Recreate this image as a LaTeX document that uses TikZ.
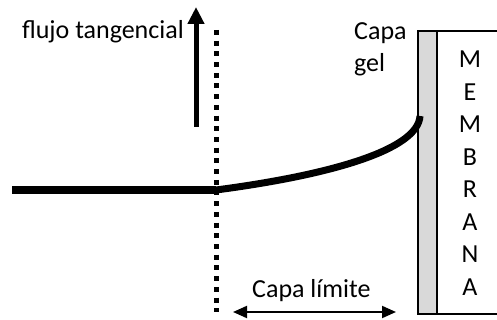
\documentclass[tikz,border=0pt]{standalone}
\usepackage{fontspec}
\setmainfont{Carlito}
\usetikzlibrary{arrows.meta}
\definecolor{gelgray}{HTML}{D9D9D9}

\begin{document}
\begin{tikzpicture}[x=1pt,y=-1pt,every node/.style={inner sep=0pt,font=\fontsize{26}{32.5}\selectfont}]
\useasboundingbox (0,0) rectangle (497,320);
% membrane with its gel layer
\draw[line width=1.8,fill=gelgray] (418,31) rectangle (437,314);
\draw[line width=1.8] (497,31) -- (437,31) |- (497,314);
\node[align=center] (membrana) at (470,173) {M\\E\\M\\B\\R\\A\\N\\A};
\node[align=left,anchor=north west] (gel) at (354,22) {Capa\\gel};
% velocity profile
\coordinate (inicio) at (12,190);
\coordinate (borde) at (216,190);
\coordinate (pared) at (420,116);
\draw[line width=8.5] (inicio) -- (borde);
\draw[line width=7] (borde) .. controls (330,175) and (418,150) .. (pared);
% edge of the boundary layer
\coordinate (borde-arriba) at (216,30);
\coordinate (borde-abajo) at (216,312);
\draw[line width=5,dash pattern=on 5 off 5.7] (borde-arriba) -- (borde-abajo);
% tangential flow
\coordinate (flujo-pie) at (196,127);
\coordinate (flujo-punta) at (196,7);
\draw[line width=5,-{Triangle[length=17,width=16]}] (flujo-pie) -- (flujo-punta);
\node[anchor=base east] (flujo) at (184,39) {flujo tangencial};
% boundary layer thickness
\coordinate (limite-izq) at (233,312);
\coordinate (limite-der) at (396,312);
\draw[line width=2,{Triangle[length=14,width=12]}-{Triangle[length=14,width=12]}] (limite-izq) -- (limite-der);
\node[anchor=base west] (limite) at (252,297) {Capa límite};
\end{tikzpicture}
\end{document}
